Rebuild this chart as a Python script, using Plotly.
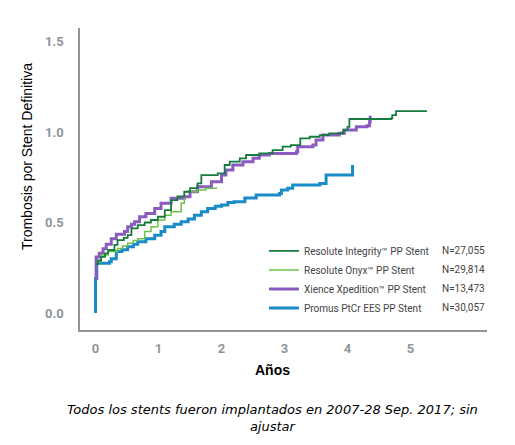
import plotly.graph_objects as go

# Kaplan-Meier style step curves (years, %)
integrity_x = [0.0, 0.04, 0.09, 0.15, 0.2, 0.3, 0.35, 0.45, 0.51, 0.57, 0.67, 0.78, 0.88, 0.99,
               1.1, 1.2, 1.3, 1.41, 1.5, 1.62, 1.68, 1.94, 2.05, 2.13, 2.29, 2.39, 2.6, 2.81,
               2.97, 3.1, 3.25, 3.4, 3.56, 3.71, 3.93, 4.0, 4.03, 4.69, 4.71, 4.77, 5.26]
integrity_y = [0.27, 0.29, 0.31, 0.33, 0.348, 0.376, 0.403, 0.415, 0.43, 0.468, 0.486, 0.5, 0.514, 0.532,
               0.569, 0.624, 0.645, 0.67, 0.69, 0.716, 0.762, 0.772, 0.818, 0.836, 0.855, 0.873, 0.882, 0.9,
               0.919, 0.928, 0.965, 0.974, 0.983, 0.993, 1.011, 1.029, 1.072, 1.076, 1.094, 1.116, 1.116]

onyx_x = [0.02, 0.04, 0.09, 0.2, 0.35, 0.43, 0.51, 0.6, 0.67, 0.78, 0.88, 0.99,
          1.1, 1.2, 1.36, 1.41, 1.62, 1.75, 1.93]
onyx_y = [0.27, 0.283, 0.32, 0.34, 0.357, 0.37, 0.385, 0.4, 0.41, 0.45, 0.477, 0.514,
          0.54, 0.56, 0.606, 0.67, 0.68, 0.689, 0.689]

xience_x = [0.0, 0.01, 0.06, 0.12, 0.17, 0.25, 0.33, 0.46, 0.51, 0.57, 0.62, 0.7, 0.8, 0.94,
            1.04, 1.2, 1.41, 1.5, 1.62, 1.84, 2.0, 2.07, 2.18, 2.34, 2.5, 2.6, 2.76,
            3.19, 3.21, 3.45, 3.5, 3.61, 3.87, 3.95, 4.14, 4.31, 4.35, 4.36]
xience_y = [0.19, 0.31, 0.33, 0.355, 0.38, 0.41, 0.435, 0.45, 0.477, 0.49, 0.504, 0.532, 0.55, 0.578,
            0.606, 0.634, 0.643, 0.67, 0.698, 0.725, 0.762, 0.79, 0.818, 0.836, 0.855, 0.873, 0.882,
            0.891, 0.919, 0.928, 0.956, 0.983, 0.993, 1.011, 1.029, 1.035, 1.057, 1.09]

promus_x = [0.0, 0.0, 0.02, 0.22, 0.25, 0.33, 0.42, 0.51, 0.6, 0.67, 0.8, 0.94,
            1.04, 1.1, 1.25, 1.36, 1.47, 1.57, 1.68, 1.78, 1.9, 2.0, 2.1, 2.2, 2.37, 2.55,
            2.92, 2.95, 3.05, 3.13, 3.56, 3.66, 4.06, 4.08]
promus_y = [0.0, 0.19, 0.275, 0.283, 0.3, 0.34, 0.35, 0.366, 0.38, 0.394, 0.41, 0.43,
            0.45, 0.477, 0.49, 0.504, 0.52, 0.54, 0.56, 0.578, 0.59, 0.597, 0.61, 0.615, 0.635, 0.652,
            0.661, 0.68, 0.69, 0.707, 0.716, 0.762, 0.762, 0.818]

names = ["Resolute Integrity™ PP Stent", "Resolute Onyx™ PP Stent",
         "Xience Xpedition™ PP Stent", "Promus PtCr EES PP Stent"]
counts = ["N=27,055", "N=29,814", "N=13,473", "N=30,057"]
colors = ["#177a3e", "#6cc24a", "#8a5cbf", "#1a8bc9"]
widths = [1.8, 1.5, 3, 3]

series = [(integrity_x, integrity_y), (onyx_x, onyx_y), (xience_x, xience_y), (promus_x, promus_y)]
draw_order = [3, 2, 1, 0]

fig = go.Figure()
for i in draw_order:
    xs, ys = series[i]
    fig.add_trace(go.Scatter(
        x=xs, y=ys, mode="lines", name=names[i], legendrank=i + 1,
        line=dict(color=colors[i], width=widths[i], shape="hv"),
    ))

axis_gray = "#8f959b"
tick_font = dict(family="Roboto", size=13, color=axis_gray, weight="bold")
legend_font = dict(family="Roboto", size=10, color="#444444")

# page body adds an 8px offset, so the figure is drawn 8px smaller
fig.update_layout(
    width=507, height=437,
    margin=dict(l=72, r=28, t=20, b=115),
    plot_bgcolor="white", paper_bgcolor="white",
    showlegend=True,
    legend=dict(x=0.452, y=0.31, xanchor="left", yanchor="top",
                font=legend_font, bgcolor="rgba(0,0,0,0)", itemwidth=30),
    xaxis=dict(range=[-0.246, 6.214], tickvals=[0, 1, 2, 3, 4, 5], showgrid=False,
               zeroline=False, showline=True, linecolor=axis_gray, linewidth=1.5,
               ticks="", ticklabelstandoff=6, tickfont=tick_font),
    yaxis=dict(range=[-0.094, 1.575], tickvals=[0, 0.5, 1.0, 1.5], tickformat=".1f",
               showgrid=False, zeroline=False, showline=True, linecolor=axis_gray,
               linewidth=1.5, ticks="", ticklabelstandoff=12, tickfont=tick_font),
)

rows_y = [0.263, 0.200, 0.137, 0.074]
for n, yy in zip(counts, rows_y):
    fig.add_annotation(x=1.0, y=yy, xref="paper", yref="paper", text=n, showarrow=False,
                       xanchor="right", yanchor="middle", font=legend_font)

fig.add_annotation(x=-0.130, y=0.573, xref="paper", yref="paper", text="Trombosis por Stent Definitiva",
                   textangle=-90, showarrow=False, xanchor="center", yanchor="middle",
                   font=dict(family="Liberation Sans", size=14, color="black"))
fig.add_annotation(x=0.472, y=-0.132, xref="paper", yref="paper", text="<b>Años</b>",
                   showarrow=False, xanchor="center", yanchor="middle",
                   font=dict(family="Liberation Sans", size=14, color="black"))
fig.add_annotation(x=0.472, y=-0.292, xref="paper", yref="paper",
                   text="<i>Todos los stents fueron implantados en 2007-28 Sep. 2017; sin<br>ajustar</i>",
                   showarrow=False, xanchor="center", yanchor="middle", align="center",
                   font=dict(family="DejaVu Sans", size=13, color="black"))

fig.write_html("out.html")
